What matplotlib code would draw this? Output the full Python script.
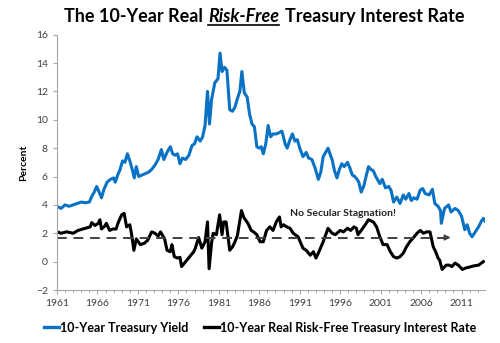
import matplotlib
matplotlib.use('agg')
import matplotlib.pyplot as plt
from matplotlib.lines import Line2D

plt.rcParams['font.family'] = ['Lato', 'DejaVu Sans']

# 10-year treasury yield (percent)
yield_years = [1961.0, 1961.5, 1962.0, 1962.5, 1963.0, 1963.5, 1964.0, 1964.5, 1965.0, 1965.3,
               1965.6, 1965.9, 1966.2, 1966.5, 1966.8, 1967.2, 1967.6, 1968.0, 1968.2, 1968.5,
               1968.8, 1969.1, 1969.4, 1969.7, 1970.0, 1970.3, 1970.55, 1970.8, 1971.1, 1971.5,
               1971.9, 1972.3, 1972.7, 1973.1, 1973.5, 1973.9, 1974.2, 1974.6, 1975.0, 1975.3,
               1975.6, 1975.9, 1976.2, 1976.5, 1976.9, 1977.3, 1977.7, 1978.0, 1978.3, 1978.7,
               1979.0, 1979.3, 1979.6, 1979.85, 1980.1, 1980.5, 1980.9, 1981.15, 1981.4, 1981.7,
               1982.0, 1982.35, 1982.7, 1983.0, 1983.3, 1983.6, 1983.85, 1984.15, 1984.5, 1984.8,
               1985.1, 1985.4, 1985.7, 1986.0, 1986.25, 1986.5, 1986.8, 1987.1, 1987.4, 1987.7,
               1988.1, 1988.5, 1988.8, 1989.2, 1989.45, 1989.8, 1990.1, 1990.4, 1990.7, 1991.0,
               1991.4, 1991.8, 1992.1, 1992.5, 1992.9, 1993.3, 1993.6, 1993.9, 1994.5, 1994.8,
               1995.0, 1995.3, 1995.6, 1995.9, 1996.2, 1996.5, 1996.9, 1997.2, 1997.5, 1997.8,
               1998.1, 1998.3, 1998.6, 1998.9, 1999.2, 1999.5, 1999.8, 2000.1, 2000.4, 2000.9,
               2001.2, 2001.6, 2002.0, 2002.3, 2002.6, 2003.0, 2003.4, 2003.8, 2004.1, 2004.5,
               2004.8, 2005.1, 2005.5, 2005.9, 2006.2, 2006.5, 2007.0, 2007.4, 2007.7, 2008.1,
               2008.4, 2008.5, 2008.9, 2009.4, 2009.7, 2010.2, 2010.6, 2011.0, 2011.4, 2011.7,
               2012.0, 2012.3, 2012.7, 2013.1, 2013.5, 2013.7, 2013.9]
yield_vals = [3.9, 3.75, 4.0, 3.9, 4.0, 4.1, 4.2, 4.15, 4.2, 4.6,
              4.9, 5.3, 4.9, 4.5, 5.1, 5.6, 5.8, 5.9, 5.6, 6.1,
              6.5, 7.1, 7.0, 7.6, 7.1, 6.5, 5.9, 6.7, 6.0, 6.1,
              6.2, 6.3, 6.5, 6.8, 7.2, 7.9, 7.2, 7.7, 8.1, 7.6,
              7.5, 7.6, 6.9, 7.3, 7.2, 7.5, 8.2, 8.3, 8.8, 8.5,
              8.8, 9.6, 12.0, 9.7, 11.4, 12.6, 12.9, 14.7, 13.4, 13.7,
              13.5, 10.7, 10.6, 10.9, 11.5, 12.0, 13.4, 11.9, 11.6, 10.4,
              9.7, 9.5, 8.1, 8.0, 8.1, 7.6, 8.3, 9.6, 8.8, 9.0,
              9.0, 9.1, 9.2, 8.3, 8.0, 8.6, 9.0, 8.5, 8.6, 8.0,
              7.4, 7.7, 7.3, 7.2, 6.6, 5.8, 6.3, 7.4, 8.0, 7.5,
              7.2, 6.4, 5.9, 6.5, 6.9, 6.7, 7.0, 6.6, 6.1, 6.0,
              5.8, 5.6, 4.9, 5.3, 6.0, 6.7, 6.5, 6.4, 6.0, 5.5,
              5.8, 5.2, 5.3, 5.0, 4.2, 4.55, 4.1, 4.7, 4.4, 4.8,
              4.3, 4.5, 4.4, 5.05, 5.15, 4.8, 4.7, 5.1, 4.1, 3.9,
              3.6, 2.7, 3.75, 4.0, 3.5, 3.75, 3.6, 3.2, 2.25, 2.6,
              2.0, 1.75, 2.1, 2.45, 2.9, 3.05, 2.85]

# 10-year real risk-free rate (percent)
real_years = [1961.0, 1961.5, 1962.2, 1963.0, 1963.6, 1964.2, 1964.8, 1965.1, 1965.3, 1965.7,
              1966.1, 1966.3, 1966.5, 1966.9, 1967.1, 1967.5, 1967.9, 1968.3, 1968.6, 1969.0,
              1969.3, 1969.6, 1970.0, 1970.2, 1970.5, 1970.8, 1971.3, 1971.8, 1972.2, 1972.7,
              1973.1, 1973.5, 1973.8, 1974.3, 1974.6, 1975.0, 1975.2, 1975.5, 1975.9, 1976.2,
              1976.4, 1976.9, 1977.4, 1977.9, 1978.1, 1978.5, 1978.9, 1979.3, 1979.6, 1979.8,
              1980.1, 1980.3, 1980.7, 1981.1, 1981.4, 1981.6, 1981.9, 1982.35, 1982.7, 1983.0,
              1983.3, 1983.8, 1984.1, 1984.6, 1985.0, 1985.3, 1985.7, 1986.1, 1986.5, 1986.9,
              1987.3, 1987.7, 1988.1, 1988.5, 1988.7, 1989.0, 1989.4, 1989.8, 1990.2, 1990.8,
              1991.4, 1991.8, 1992.3, 1992.7, 1993.0, 1993.3, 1993.9, 1994.5, 1995.0, 1995.4,
              1996.0, 1996.4, 1996.9, 1997.3, 1997.7, 1998.0, 1998.2, 1998.6, 1999.1, 1999.5,
              2000.1, 2000.5, 2000.9, 2001.3, 2001.8, 2002.2, 2002.6, 2003.0, 2003.4, 2003.8,
              2004.2, 2004.6, 2005.0, 2005.5, 2005.9, 2006.3, 2006.7, 2007.1, 2007.5, 2007.8,
              2008.1, 2008.3, 2008.6, 2009.1, 2009.5, 2009.8, 2010.2, 2010.6, 2011.1, 2011.5,
              2011.9, 2012.5, 2013.1, 2013.7]
real_vals = [2.1, 2.0, 2.1, 2.0, 2.2, 2.3, 2.4, 2.45, 2.75, 2.55,
             2.7, 2.95, 2.3, 2.5, 2.7, 2.2, 2.3, 2.3, 2.8, 3.3,
             3.4, 2.45, 2.6, 2.0, 0.8, 1.6, 1.2, 1.3, 1.5, 2.1,
             2.0, 1.8, 2.1, 1.6, 0.8, 0.7, 1.2, 0.35, 0.25, 0.3,
             -0.35, 0.0, 0.35, 0.7, 0.95, 1.7, 0.95, 1.4, 2.8, -0.5,
             1.3, 2.0, 1.9, 3.3, 1.9, 2.8, 2.8, 0.8, 1.05, 1.4,
             1.85, 3.6, 3.1, 2.7, 2.2, 2.1, 1.9, 1.4, 1.4, 2.2,
             2.45, 2.2, 2.8, 3.15, 2.45, 2.6, 2.45, 2.35, 2.0, 1.75,
             0.95, 0.8, 0.45, 0.7, 0.25, 0.6, 1.4, 2.35, 2.0, 1.9,
             2.2, 2.1, 2.35, 2.2, 2.45, 2.35, 1.9, 2.2, 2.6, 2.95,
             2.8, 2.45, 1.75, 1.2, 1.2, 0.7, 0.35, 0.25, 0.35, 0.6,
             1.05, 1.4, 1.65, 2.0, 2.2, 2.0, 2.1, 2.1, 1.05, 0.7,
             0.25, 0.1, -0.55, -0.25, -0.25, -0.35, -0.1, -0.25, -0.55, -0.45,
             -0.4, -0.3, -0.25, 0.0]

avg_level = 1.7
year_labels = [1961, 1966, 1971, 1976, 1981, 1986, 1991, 1996, 2001, 2006, 2011]

blue = '#0a72c4'
grey = '#404040'

fig = plt.figure(figsize=(5, 3.43), dpi=100)
ax = fig.add_axes([0.114, 0.1545, 0.856, 0.7445])

ax.plot(yield_years, yield_vals, color=blue, lw=2.2, solid_joinstyle='round')
ax.plot(real_years, real_vals, color='black', lw=2.2, solid_joinstyle='round')

# dashed arrow for the long-run level
ax.plot([1961, 2009.2], [avg_level, avg_level], color=grey, lw=1.4, ls=(0, (5, 3.5)))
ax.annotate('', xy=(2010.0, avg_level), xytext=(2008.8, avg_level),
            arrowprops=dict(arrowstyle='-|>', color=grey, lw=1.2, mutation_scale=8))
ax.text(1989.8, 3.4, 'No Secular Stagnation!', fontsize=7.5, fontweight='bold',
        ha='left', va='center', color='#222222')

ax.set_xlim(1961, 2013.9)
ax.set_ylim(-2, 16)
ax.set_yticks(range(-2, 17, 2))
ax.set_xticks(year_labels)
ax.set_xticks(range(1961, 2014), minor=True)
ax.spines['top'].set_visible(False)
ax.spines['right'].set_visible(False)
for s in ['left', 'bottom']:
    ax.spines[s].set_color('#a6a6a6')
ax.tick_params(axis='both', which='both', color='#a6a6a6', labelsize=7.5,
               labelcolor=grey, length=3)
ax.tick_params(axis='x', which='minor', length=2)
ax.set_ylabel('Percent', fontsize=7.5, fontweight='bold', labelpad=6)

# legend below the plot
handles = [Line2D([], [], color=blue, lw=2.4), Line2D([], [], color='black', lw=2.4)]
fig.legend(handles, ['10-Year Treasury Yield', '10-Year Real Risk-Free Treasury Interest Rate'],
           loc='center', bbox_to_anchor=(0.52, 0.045), ncol=2, frameon=False,
           prop={'weight': 'bold', 'size': 9}, handlelength=1.2, handletextpad=0.05,
           columnspacing=1.3)

# title with the underlined bold italic piece
pieces = [('The 10-Year Real', 'normal'), ('Risk-Free', 'italic'),
          ('Treasury Interest Rate', 'normal')]
fig.canvas.draw()
rend = fig.canvas.get_renderer()
texts = [fig.text(0, 0.936, p, fontsize=13, fontweight='bold', style=st,
                  ha='left', va='baseline') for p, st in pieces]
widths = [t.get_window_extent(rend).width / fig.bbox.width for t in texts]
space = 0.011
total = sum(widths) + space * 2
x = 0.528 - total / 2
for t, w in zip(texts, widths):
    t.set_x(x)
    x += w + space
ul_left = texts[1].get_position()[0]
fig.add_artist(Line2D([ul_left, ul_left + widths[1]], [0.926, 0.926], color='black', lw=1.2,
                      transform=fig.transFigure))

fig.savefig('out.png', dpi=100)
